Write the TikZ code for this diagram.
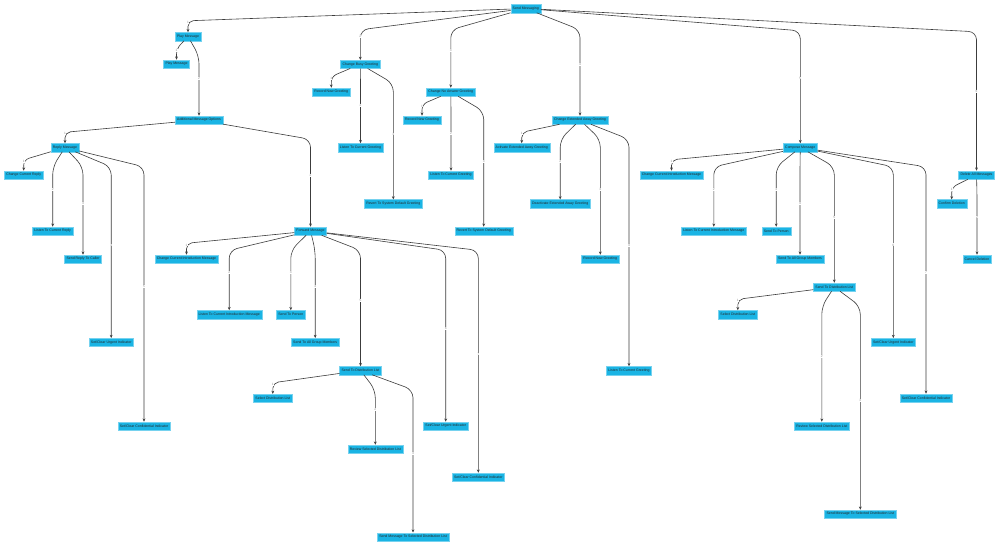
\documentclass[tikz,border=0pt]{standalone}
\usepackage{fontspec}
\setmainfont{Liberation Sans}
\usetikzlibrary{arrows.meta,calc}
\definecolor{boxblue}{HTML}{1AB4E4}
\definecolor{edgecol}{HTML}{3C3C3C}
\tikzset{
 box/.style={fill=boxblue, draw=boxblue!60!white, line width=0.3pt, inner xsep=2pt, inner ysep=0pt, minimum height=8.3pt, font=\fontsize{3.5}{4}\selectfont, text=black!85},
 edge/.style={draw=edgecol, line width=0.6pt, rounded corners=8pt, -{Stealth[length=3.2pt,width=2.8pt]}},
 shortedge/.style={edge, rounded corners=5.5pt},
 elab/.style={fill=white, inner sep=0.3pt, text=black!45, font=\fontsize{3.2}{3.6}\selectfont},
}
\newcommand\edg[4][15]{%
  \path (#2.south) ++(0,#1) coordinate (tA);
  \draw[edge] (#2) -- (tA -| #3) -- (#3.north);
  \coordinate (tM) at ($(#2.center)!0.5!(#3.center)$);
  \node[elab] at (tM -| #3) {#4};
}
\newcommand\edgf[3]{%
  \path (#1.south) ++(0,8) coordinate (tA);
  \draw[shortedge] (#1) -- (tA -| #2) -- (#2.north);
  \coordinate (tM) at ($(#1.center)!0.5!(#2.center)$);
  \node[elab] at (tM -| #2) {#3};
}
\begin{document}
\begin{tikzpicture}[x=1pt,y=-1pt]
\useasboundingbox (0,0) rectangle (999,544);
\fill[white] (0,0) rectangle (999,544);
% nodes
\node[box] (root) at (525.7,8.5) {Send Messaging};
\node[box] (pm) at (188,36.5) {Play Message};
\node[box] (pm1) at (176.5,64) {Play Message};
\node[box] (amo) at (199,120) {Additional Message Options};
\node[box] (rep) at (65,147.5) {Reply Message};
\node[box] (rep1) at (23.7,175) {Change Current Reply};
\node[box] (rep2) at (52.7,231) {Listen To Current Reply};
\node[box] (rep3) at (83,259) {Send Reply To Caller};
\node[box] (rep4) at (111.2,342.3) {Set/Clear Urgent Indicator};
\node[box] (rep5) at (144,426) {Set/Clear Confidential Indicator};
\node[box] (fwd) at (310.5,231) {Forward Message};
\node[box] (fwd1) at (186.5,259) {Change Current Introduction Message};
\node[box] (fwd2) at (229.2,314.5) {Listen To Current Introduction Message};
\node[box] (fwd3) at (290.8,314.5) {Send To Person};
\node[box] (fwd4) at (315.2,342.3) {Send To All Group Members};
\node[box] (fwd5) at (360.5,370.5) {Send To Distribution List};
\node[box] (fwd6) at (445.7,426) {Set/Clear Urgent Indicator};
\node[box] (fwd7) at (478.3,477) {Set/Clear Confidential Indicator};
\node[box] (fd1) at (272.8,398.2) {Select Distribution List};
\node[box] (fd2) at (375.3,449) {Review Selected Distribution List};
\node[box] (fd3) at (413,536.8) {Send Message To Selected Distribution List};
\node[box] (busy) at (360.3,64.2) {Change Busy Greeting};
\node[box] (busy1) at (331.3,92) {Record New Greeting};
\node[box] (busy2) at (360.5,147.5) {Listen To Current Greeting};
\node[box] (busy3) at (393.3,203.7) {Revert To System Default Greeting};
\node[box] (na) at (450.8,92) {Change No Answer Greeting};
\node[box] (na1) at (422,120) {Record New Greeting};
\node[box] (na2) at (451,175) {Listen To Current Greeting};
\node[box] (na3) at (483.7,231) {Revert To System Default Greeting};
\node[box] (ext) at (580,120) {Change Extended Away Greeting};
\node[box] (ext1) at (521.7,147.5) {Activate Extended Away Greeting};
\node[box] (ext2) at (560.2,203.7) {Deactivate Extended Away Greeting};
\node[box] (ext3) at (600.3,259) {Record New Greeting};
\node[box] (ext4) at (629,370.5) {Listen To Current Greeting};
\node[box] (cmp) at (800.3,147.5) {Compose Message};
\node[box] (cmp1) at (671.5,175) {Change Current Introduction Message};
\node[box] (cmp2) at (713.8,231) {Listen To Current Introduction Message};
\node[box] (cmp3) at (776.2,231) {Send To Person};
\node[box] (cmp4) at (800,259) {Send To All Group Members};
\node[box] (cmp5) at (834.3,287) {Send To Distribution List};
\node[box] (cmp6) at (893.3,342.3) {Set/Clear Urgent Indicator};
\node[box] (cmp7) at (926,398) {Set/Clear Confidential Indicator};
\node[box] (cd1) at (737.8,314.5) {Select Distribution List};
\node[box] (cd2) at (821.8,426) {Review Selected Distribution List};
\node[box] (cd3) at (860.3,514) {Send Message To Selected Distribution List};
\node[box] (del) at (976.5,175) {Delete All Messages};
\node[box] (del1) at (951.7,203.7) {Confirm Deletion};
\node[box] (del2) at (977,259) {Cancel Deletion};
% edges
\edgf{root}{pm}{1}\edg[17]{root}{busy}{2}\edg[17]{root}{na}{3}\edg[17]{root}{ext}{4}\edg[18]{root}{cmp}{5}\edg[19]{root}{del}{6}
\edgf{pm}{pm1}{1}\edg{pm}{amo}{2}
\edgf{amo}{rep}{1}\edg{amo}{fwd}{2}
\edgf{rep}{rep1}{1}\edg{rep}{rep2}{2}\edg{rep}{rep3}{3}\edg{rep}{rep4}{4}\edg{rep}{rep5}{5}
\edgf{fwd}{fwd1}{1}\edg{fwd}{fwd2}{2}\edg{fwd}{fwd3}{3}\edg{fwd}{fwd4}{4}\edg{fwd}{fwd5}{5}\edg{fwd}{fwd6}{6}\edg{fwd}{fwd7}{7}
\edgf{fwd5}{fd1}{1}\edg{fwd5}{fd2}{2}\edg{fwd5}{fd3}{3}
\edgf{busy}{busy1}{1}\edg{busy}{busy2}{2}\edg{busy}{busy3}{3}
\edgf{na}{na1}{1}\edg{na}{na2}{2}\edg{na}{na3}{3}
\edgf{ext}{ext1}{1}\edg{ext}{ext2}{2}\edg{ext}{ext3}{3}\edg{ext}{ext4}{4}
\edgf{cmp}{cmp1}{1}\edg{cmp}{cmp2}{2}\edg{cmp}{cmp3}{3}\edg{cmp}{cmp4}{4}\edg{cmp}{cmp5}{5}\edg{cmp}{cmp6}{6}\edg{cmp}{cmp7}{7}
\edgf{cmp5}{cd1}{1}\edg{cmp5}{cd2}{2}\edg{cmp5}{cd3}{3}
\edgf{del}{del1}{1}\edg{del}{del2}{2}
\end{tikzpicture}
\end{document}
